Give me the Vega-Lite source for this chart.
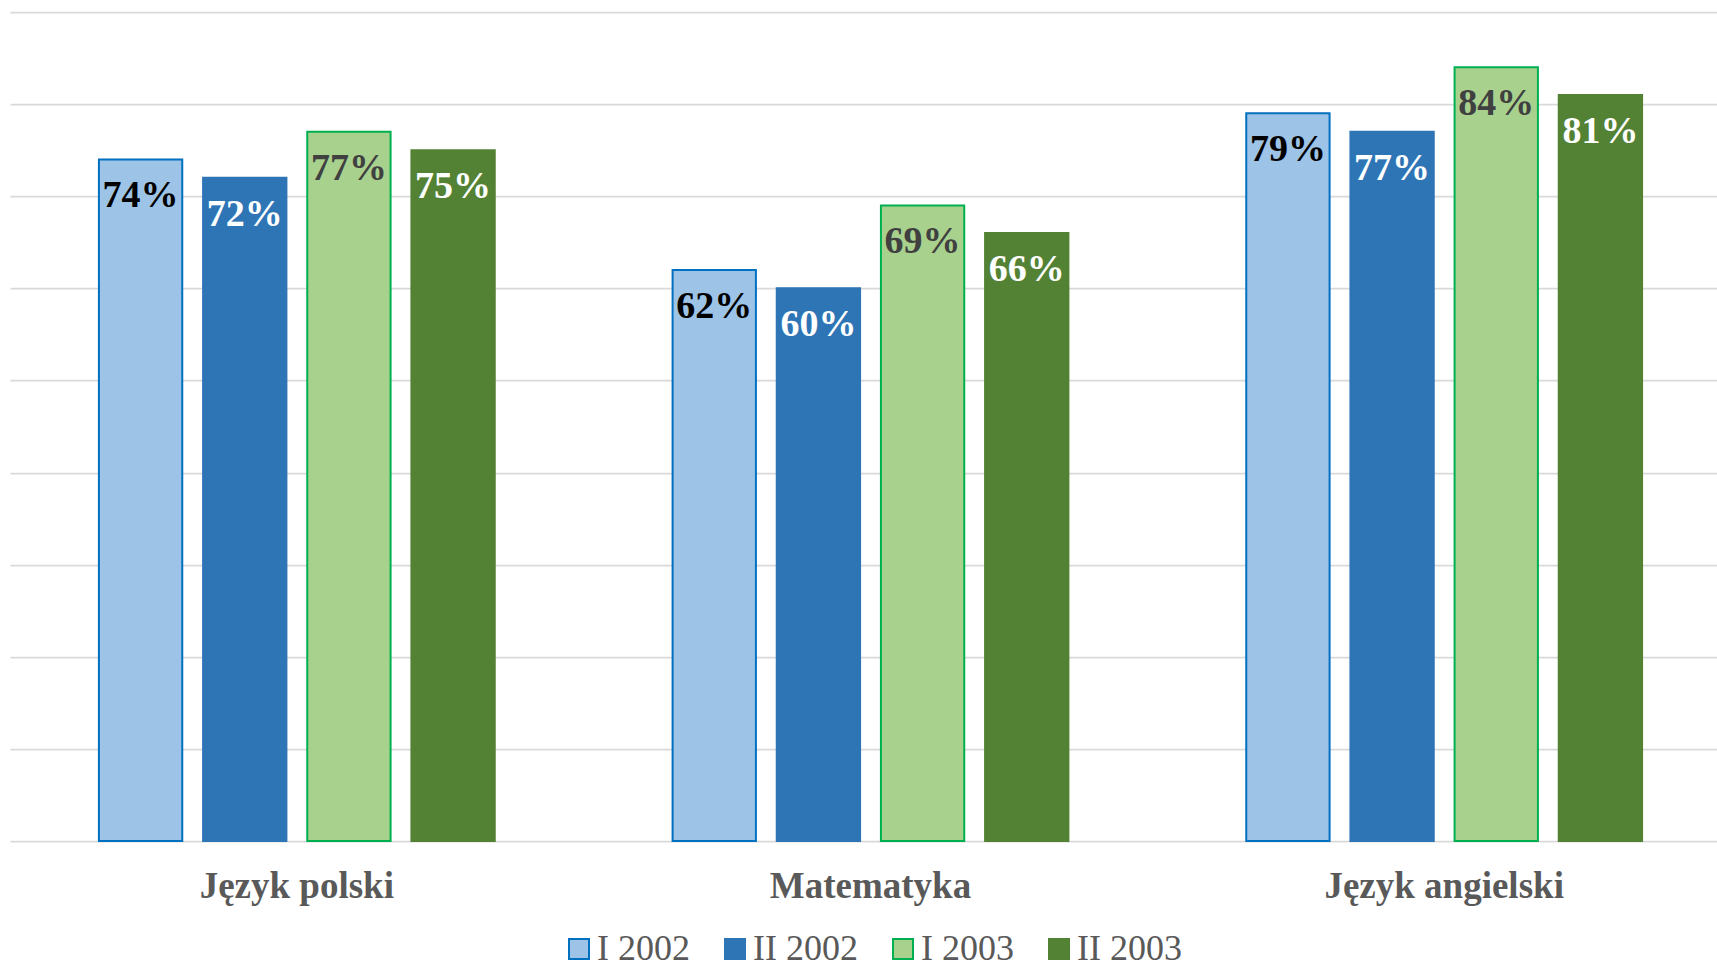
{
  "$schema": "https://vega.github.io/schema/vega-lite/v6.json",
  "width": 1707,
  "height": 829,
  "autosize": {"type": "none"},
  "padding": {"left": 10, "top": 12, "right": 0, "bottom": 125},
  "background": "white",
  "data": {
    "values": [
      {"subject": "Język polski", "series": "I 2002", "value": 0.74},
      {"subject": "Język polski", "series": "II 2002", "value": 0.72},
      {"subject": "Język polski", "series": "I 2003", "value": 0.77},
      {"subject": "Język polski", "series": "II 2003", "value": 0.75},
      {"subject": "Matematyka", "series": "I 2002", "value": 0.62},
      {"subject": "Matematyka", "series": "II 2002", "value": 0.60},
      {"subject": "Matematyka", "series": "I 2003", "value": 0.69},
      {"subject": "Matematyka", "series": "II 2003", "value": 0.66},
      {"subject": "Język angielski", "series": "I 2002", "value": 0.79},
      {"subject": "Język angielski", "series": "II 2002", "value": 0.77},
      {"subject": "Język angielski", "series": "I 2003", "value": 0.84},
      {"subject": "Język angielski", "series": "II 2003", "value": 0.81}
    ]
  },
  "encoding": {
    "x": {
      "field": "subject",
      "type": "nominal",
      "sort": ["Język polski", "Matematyka", "Język angielski"],
      "scale": {"range": [0, 1721], "paddingInner": 0.31, "paddingOuter": 0.155},
      "axis": {
        "title": null,
        "domain": false,
        "ticks": false,
        "tickSize": 0,
        "grid": false,
        "labelAngle": 0,
        "labelLimit": 0,
        "labelFont": "Liberation Serif",
        "labelFontWeight": "bold",
        "labelFontSize": 37,
        "labelColor": "#595959",
        "labelPadding": 27
      }
    },
    "xOffset": {
      "field": "series",
      "type": "nominal",
      "sort": ["I 2002", "II 2002", "I 2003", "II 2003"],
      "scale": {"paddingInner": 0.2, "paddingOuter": 0}
    },
    "y": {
      "field": "value",
      "type": "quantitative",
      "scale": {"domain": [0, 0.9]},
      "axis": {
        "title": null,
        "labels": false,
        "ticks": false,
        "domain": false,
        "grid": true,
        "values": [0, 0.1, 0.2, 0.3, 0.4, 0.5, 0.6, 0.7, 0.8, 0.9],
        "gridColor": "#D9D9D9",
        "gridWidth": 1.75
      }
    }
  },
  "layer": [
    {
      "mark": {"type": "bar", "strokeWidth": 2},
      "encoding": {
        "fill": {
          "field": "series",
          "type": "nominal",
          "sort": ["I 2002", "II 2002", "I 2003", "II 2003"],
          "scale": {"domain": ["I 2002", "II 2002", "I 2003", "II 2003"], "range": ["#9DC3E6", "#2E75B6", "#A9D18E", "#548235"]},
          "legend": {"title": null, "orient": "none", "legendX": 551, "legendY": 919}
        },
        "stroke": {
          "field": "series",
          "type": "nominal",
          "sort": ["I 2002", "II 2002", "I 2003", "II 2003"],
          "scale": {"domain": ["I 2002", "II 2002", "I 2003", "II 2003"], "range": ["#0070C0", "#2E75B6", "#00B050", "#548235"]},
          "legend": {"title": null, "orient": "none", "legendX": 551, "legendY": 919}
        }
      }
    },
    {
      "mark": {"type": "text", "baseline": "alphabetic", "align": "center", "dy": 48, "font": "Liberation Serif", "fontWeight": "bold", "fontSize": 38},
      "encoding": {
        "text": {"field": "value", "type": "quantitative", "format": ".0%"},
        "color": {
          "field": "series",
          "type": "nominal",
          "scale": {"domain": ["I 2002", "II 2002", "I 2003", "II 2003"], "range": ["#000000", "#FFFFFF", "#404040", "#FFFFFF"]},
          "legend": null
        }
      }
    }
  ],
  "config": {
    "view": {"stroke": null},
    "legend": {
      "direction": "horizontal",
      "symbolType": "square",
      "symbolSize": 400,
      "symbolStrokeWidth": 2,
      "labelFont": "Liberation Serif",
      "labelFontSize": 36,
      "labelColor": "#595959",
      "labelOffset": 0,
      "labelLimit": 0,
      "columnPadding": 27
    }
  }
}
